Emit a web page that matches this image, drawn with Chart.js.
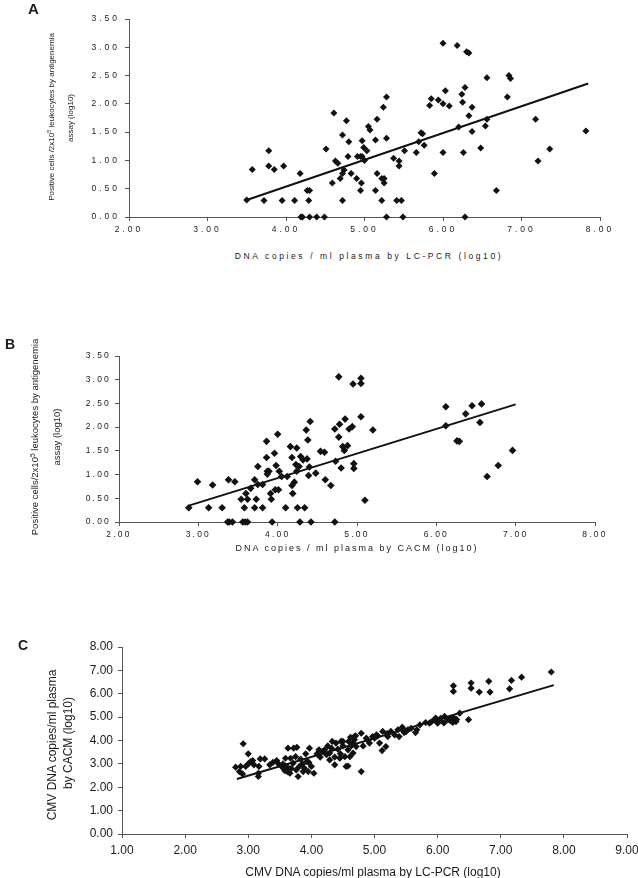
<!DOCTYPE html>
<html>
<head>
<meta charset="utf-8">
<script src="https://cdn.jsdelivr.net/npm/chart.js@4.4.1/dist/chart.umd.min.js"></script>
<style>
  html, body { margin: 0; padding: 0; background: #fff; }
  body { width: 638px; height: 878px; position: relative; overflow: hidden; font-family: 'Liberation Sans', Arial, sans-serif; color: #1a1a1a; }
  canvas { position: absolute; left: 0; }
  .lbl { position: absolute; white-space: nowrap; line-height: 1; }
  .panel { font-weight: bold; }
  .rot { transform: translate(-50%, -50%) rotate(-90deg); }
  .ctr { transform: translate(-50%, -50%); }
  sup { font-size: 70%; vertical-align: 0; position: relative; top: -0.5em; }
</style>
</head>
<body>
<canvas id="chartA" width="638" height="240" style="top:0"></canvas>
<canvas id="chartB" width="638" height="250" style="top:300px"></canvas>
<canvas id="chartC" width="638" height="270" style="top:600px"></canvas>

<div class="lbl panel" style="left:28px;top:1px;font-size:15px">A</div>
<div class="lbl rot" style="left:52px;top:117px;font-size:8px">Positive cells /2x10<sup>5</sup> leukocytes by antigenemia</div>
<div class="lbl rot" style="left:71px;top:118px;font-size:8px">assay (log10)</div>
<div class="lbl ctr" style="left:369px;top:256px;font-size:8.5px;letter-spacing:2.6px">DNA copies / ml plasma by LC-PCR (log10)</div>

<div class="lbl panel" style="left:5px;top:337px;font-size:14px">B</div>
<div class="lbl rot" style="left:35px;top:437px;font-size:9.5px">Positive cells/2x10<sup>5</sup> leukocytes by antigenemia</div>
<div class="lbl rot" style="left:57px;top:437px;font-size:9.5px">assay (log10)</div>
<div class="lbl ctr" style="left:357px;top:548px;font-size:9px;letter-spacing:2px">DNA copies / ml plasma by CACM (log10)</div>

<div class="lbl panel" style="left:18px;top:638px;font-size:14px">C</div>
<div class="lbl rot" style="left:52px;top:745px;font-size:12px">CMV DNA copies/ml plasma</div>
<div class="lbl rot" style="left:68px;top:743px;font-size:12px">by CACM (log10)</div>
<div class="lbl ctr" style="left:373px;top:872px;font-size:12px">CMV DNA copies/ml plasma by LC-PCR (log10)</div>

<script>
// Panel A: LC-PCR (x) vs antigenemia (y)
const pointsA = [
  [3.50,0.30],[3.57,0.84],[3.72,0.29],[3.78,1.17],[3.78,0.90],[3.85,0.84],[3.95,0.29],[3.97,0.90],
  [4.11,0.29],[4.18,0.77],[4.19,0],[4.21,0],[4.27,0.47],[4.30,0.47],[4.29,0.29],[4.30,0],[4.39,0],
  [4.49,0],[4.51,1.20],[4.59,0.60],[4.61,1.84],[4.63,0.99],[4.66,0.95],[4.69,0.68],[4.72,1.45],
  [4.72,0.29],[4.72,0.77],[4.74,0.83],[4.77,1.70],[4.79,1.07],[4.80,1.33],[4.83,0.77],[4.90,0.68],
  [4.91,1.07],[4.95,1.07],[4.95,0.47],[4.96,0.60],[4.97,1.35],[4.97,1.07],[4.99,1.23],[5.00,1.00],
  [5.03,1.17],[5.05,1.60],[5.07,1.54],[5.14,1.36],[5.14,0.47],[5.16,1.73],[5.16,0.77],[5.22,0.29],
  [5.22,0.68],[5.24,1.94],[5.25,0.68],[5.25,0.60],[5.28,1.39],[5.28,2.12],[5.28,0],[5.37,1.04],
  [5.41,0.29],[5.44,0.99],[5.44,0.90],[5.47,0.29],[5.49,0],[5.51,1.17],[5.66,1.14],[5.69,1.33],
  [5.72,1.49],[5.74,1.47],[5.76,1.27],[5.83,1.97],[5.85,2.09],[5.89,0.77],[5.94,2.07],[6.00,3.07],
  [6.00,2.00],[6.00,1.14],[6.03,2.23],[6.08,1.96],[6.18,3.03],[6.20,1.59],[6.24,2.17],[6.25,2.03],
  [6.28,2.29],[6.26,1.14],[6.28,0],[6.30,2.92],[6.33,2.90],[6.33,1.79],[6.37,1.94],[6.37,1.51],
  [6.48,1.22],[6.54,1.61],[6.56,2.46],[6.56,1.73],[6.68,0.47],[6.82,2.12],[6.84,2.50],[6.86,2.45],
  [7.18,1.73],[7.21,0.99],[7.36,1.20],[7.82,1.52]
];
const trendA = [[3.50,0.30],[7.85,2.36]];

// Panel B: CACM (x) vs antigenemia (y)
const pointsB = [
  [2.88,0.30],[2.99,0.85],[3.13,0.30],[3.18,0.78],[3.30,0.30],[3.37,0],[3.39,0],[3.43,0],[3.38,0.89],
  [3.46,0.85],[3.54,0.48],[3.56,0],[3.59,0],[3.62,0],[3.58,0.30],[3.60,0.60],[3.62,0.48],[3.66,0.71],
  [3.71,0.89],[3.71,0.30],[3.73,0.48],[3.75,1.17],[3.75,0.79],[3.81,0.79],[3.81,0.30],[3.86,1.36],
  [3.86,1.70],[3.87,1.07],[3.87,1.01],[3.89,1.07],[3.91,0.60],[3.92,0.48],[3.93,0],[3.96,1.45],
  [3.97,0.68],[3.98,1.19],[4.00,1.85],[4.01,0.68],[4.02,1.07],[4.05,0.96],[4.10,0.30],[4.12,0.96],
  [4.16,1.59],[4.18,1.36],[4.18,0.77],[4.19,0.60],[4.21,0.84],[4.23,1.21],[4.24,1.56],[4.24,1.07],
  [4.25,0.30],[4.27,1.17],[4.28,0],[4.29,1.38],[4.32,1.31],[4.34,0.30],[4.36,1.94],[4.37,1.33],
  [4.38,1.73],[4.39,0.98],[4.40,1.16],[4.41,2.12],[4.42,0],[4.48,1.03],[4.54,1.49],[4.59,1.47],
  [4.60,0.89],[4.67,0.77],[4.72,1.96],[4.72,0],[4.73,1.28],[4.77,3.06],[4.77,1.79],[4.78,2.06],
  [4.80,1.14],[4.82,1.59],[4.84,1.51],[4.85,2.17],[4.88,1.61],[4.90,1.96],[4.94,2.01],[4.95,2.91],
  [4.96,1.23],[4.96,1.13],[5.05,3.03],[5.05,2.92],[5.05,2.22],[5.10,0.46],[5.20,1.94],[6.12,2.03],
  [6.12,2.43],[6.26,1.71],[6.29,1.70],[6.37,2.28],[6.45,2.45],[6.55,2.10],[6.57,2.49],[6.64,0.96],
  [6.78,1.19],[6.96,1.51]
];
const trendB = [[2.89,0.35],[7.00,2.48]];

// Panel C: LC-PCR (x) vs CACM (y)
const pointsC = [
  [2.80,2.86],[2.86,2.67],[2.88,2.89],[2.91,2.57],[2.92,3.86],[2.96,2.89],[3.00,3.43],[3.00,3.00],
  [3.04,3.10],[3.07,3.14],[3.09,2.96],[3.16,2.60],[3.16,2.46],[3.17,2.89],[3.19,3.21],[3.26,3.21],
  [3.34,2.96],[3.39,3.06],[3.45,3.14],[3.48,3.00],[3.53,2.89],[3.55,3.00],[3.56,2.81],[3.58,2.71],
  [3.59,3.24],[3.61,2.89],[3.62,2.67],[3.63,3.67],[3.65,2.74],[3.66,2.60],[3.67,3.24],[3.68,2.81],
  [3.71,3.03],[3.72,3.67],[3.75,3.31],[3.76,2.74],[3.77,3.71],[3.79,2.46],[3.81,2.89],[3.83,3.20],
  [3.86,3.00],[3.87,2.67],[3.89,2.81],[3.91,3.43],[3.93,3.10],[3.95,2.67],[3.96,3.06],[3.97,3.67],
  [4.00,2.89],[4.04,2.60],[4.09,3.43],[4.12,3.60],[4.14,3.29],[4.17,3.53],[4.21,3.60],[4.24,3.39],
  [4.26,3.77],[4.29,3.17],[4.32,3.67],[4.33,3.96],[4.37,3.29],[4.39,3.89],[4.42,3.63],[4.46,3.43],
  [4.47,3.96],[4.50,3.77],[4.53,3.31],[4.55,2.89],[4.58,3.60],[4.59,3.96],[4.62,4.14],[4.63,3.77],
  [4.66,3.46],[4.68,4.03],[4.70,4.20],
  [4.29,3.46],[4.37,2.96],[4.45,3.24],[4.50,3.96],[4.58,2.91],[4.61,3.31],[4.66,3.89],[4.68,4.17],
  [4.71,3.74],[4.79,2.67],[4.79,4.31],[4.82,3.77],[4.87,4.10],[4.92,3.89],[4.97,4.17],[5.03,4.24],
  [5.08,3.89],[5.12,3.57],[5.13,4.39],[5.18,3.74],[5.21,4.17],[5.26,4.39],[5.32,4.24],[5.37,4.46],
  [5.39,4.17],[5.44,4.57],[5.47,4.34],[5.53,4.46],[5.65,4.34],[5.67,4.46],[5.72,4.67],[5.81,4.77],
  [5.87,4.74],[5.95,4.89],[5.97,4.96],[6.00,4.74],[6.03,4.86],[6.11,5.03],[6.16,4.89],[6.21,4.96],
  [6.24,4.77],[6.26,4.96],[6.29,4.81],[6.25,6.10],[6.25,6.34],[6.35,5.17],[6.49,4.89],[6.53,6.46],
  [6.53,6.24],[6.66,6.07],[6.81,6.53],[6.83,6.07],[7.14,6.21],[7.17,6.57],[7.33,6.71],[7.80,6.93],
  [4.90,4.00],[5.00,4.10],[5.05,4.20],[5.20,4.30],[5.45,4.45],[5.50,4.38],[5.58,4.52],[5.90,4.80],
  [6.05,4.95],[6.10,4.75],[6.20,4.85],[6.30,4.90]
];
const trendC = [[2.82,2.35],[7.84,6.37]];

const INK = '#111';
const AXIS = '#555';
const FONT = "'Liberation Sans', Arial, sans-serif";

// letter spacing for the scanned-looking tick labels of A and B
const tickSpacing = {
  id: 'tickSpacing',
  beforeDraw(chart, args, opts) {
    chart.ctx.letterSpacing = opts.spacing || '0px';
  }
};

function scatterPanel(id, pts, trend, cfg) {
  const ctx = document.getElementById(id).getContext('2d');
  return new Chart(ctx, {
    type: 'scatter',
    data: {
      datasets: [
        {
          data: pts.map(p => ({ x: p[0], y: p[1] })),
          pointStyle: 'rectRot',
          pointRadius: cfg.radius,
          backgroundColor: INK,
          borderColor: INK,
          borderWidth: 0,
          clip: false
        },
        {
          type: 'line',
          data: trend.map(p => ({ x: p[0], y: p[1] })),
          borderColor: INK,
          borderWidth: 2,
          pointRadius: 0,
          fill: false
        }
      ]
    },
    options: {
      responsive: false,
      animation: false,
      events: [],
      layout: { padding: cfg.padding },
      plugins: {
        legend: { display: false },
        tooltip: { enabled: false },
        tickSpacing: { spacing: cfg.spacing }
      },
      scales: {
        x: {
          type: 'linear',
          min: cfg.x[0], max: cfg.x[1],
          border: { display: true, color: AXIS, width: 1 },
          grid: { display: true, drawOnChartArea: false, drawTicks: true, tickLength: 4, color: AXIS },
          ticks: {
            stepSize: 1, padding: cfg.xPad, color: '#1a1a1a',
            font: { family: FONT, size: cfg.fontSize },
            maxRotation: 0,
            callback: v => v.toFixed(2)
          },
          afterFit(scale) {
            scale.height = cfg.xHeight;
            scale.paddingLeft = 0; scale.paddingRight = 0;
          }
        },
        y: {
          type: 'linear',
          min: cfg.y[0], max: cfg.y[1],
          border: { display: true, color: AXIS, width: 1 },
          grid: { display: true, drawOnChartArea: false, drawTicks: true, tickLength: 4, color: AXIS },
          ticks: {
            stepSize: cfg.yStep, padding: cfg.yPad, color: '#1a1a1a',
            font: { family: FONT, size: cfg.fontSize },
            callback: v => v.toFixed(2)
          },
          afterFit(scale) {
            scale.width = cfg.yWidth;
            scale.paddingTop = 0; scale.paddingBottom = 0;
          }
        }
      }
    },
    plugins: [tickSpacing]
  });
}

scatterPanel('chartA', pointsA, trendA, {
  radius: 3.5, x: [2, 8], y: [0, 3.5], yStep: 0.5,
  padding: { top: 19, right: 38, left: 0, bottom: 0 },
  yWidth: 129, xHeight: 23, xPad: 4, yPad: 5, fontSize: 8.5, spacing: '3px'
});

scatterPanel('chartB', pointsB, trendB, {
  radius: 3.8, x: [2, 8], y: [0, 3.5], yStep: 0.5,
  padding: { top: 56, right: 43, left: 0, bottom: 0 },
  yWidth: 119, xHeight: 28, xPad: 4, yPad: 4, fontSize: 8.5, spacing: '2.2px'
});

scatterPanel('chartC', pointsC, trendC, {
  radius: 3.6, x: [1, 9], y: [0, 8], yStep: 1,
  padding: { top: 47, right: 11, left: 0, bottom: 0 },
  yWidth: 122, xHeight: 36, xPad: 5, yPad: 5, fontSize: 12, spacing: '0px'
});
</script>
</body>
</html>
